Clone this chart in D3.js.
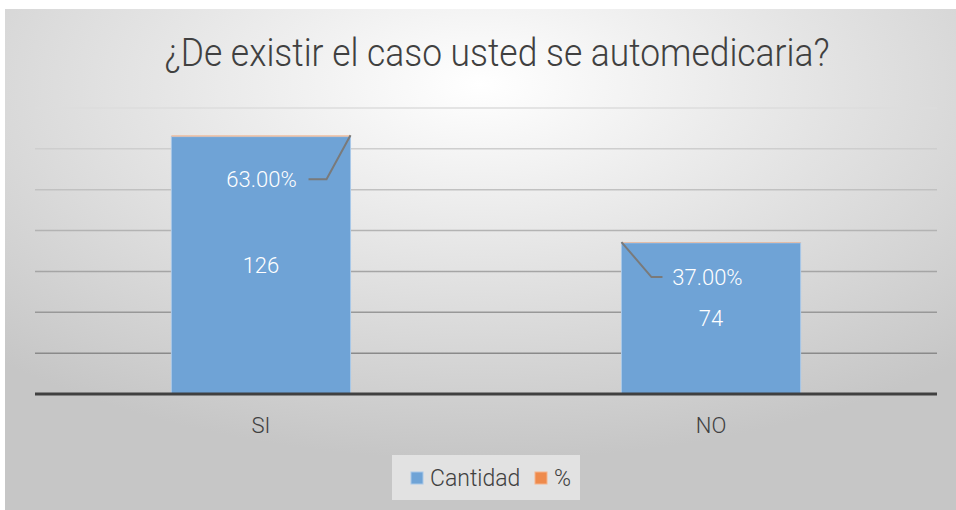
<!DOCTYPE html>
<html>
<head>
<meta charset="utf-8">
<script src="https://cdn.jsdelivr.net/npm/d3@7"></script>
<style>
  body { margin: 0; background: #fff; }
  svg { display: block; }
</style>
</head>
<body>
<svg id="chart" width="956" height="510"></svg>
<script>
const categories = ['SI', 'NO'];
const cantidad = [126, 74];
const porcentaje = [0.63, 0.37];
const seriesNames = ['Cantidad', '%'];
const yTicks = [0, 20, 40, 60, 80, 100, 120, 140];

const W = 956, H = 510;
const svg = d3.select('#chart');
const FONT = 'Roboto, sans-serif';

// Background with soft radial gradient
const defs = svg.append('defs');
const bg = defs.append('radialGradient')
  .attr('id', 'bg')
  .attr('cx', '50%').attr('cy', '15%').attr('r', '75%');
bg.append('stop').attr('offset', '0%').attr('stop-color', '#ffffff');
bg.append('stop').attr('offset', '100%').attr('stop-color', '#c6c6c6');

svg.append('rect')
  .attr('x', 5).attr('y', 9)
  .attr('width', W - 5).attr('height', H - 9)
  .style('fill', 'url(#bg)');

const plot = { left: 35, right: 937, top: 108, bottom: 394 };

const x = d3.scaleBand()
  .domain(categories)
  .range([plot.left, plot.right])
  .paddingInner(0.602)
  .paddingOuter(0.303);

const y = d3.scaleLinear()
  .domain([0, 140])
  .range([plot.bottom, plot.top]);

// Gridlines, lighter towards the top
const gridColor = d3.scaleLinear().domain([140, 20]).range(['#dcdcdc', '#8a8a8a']);
svg.append('g')
  .selectAll('line')
  .data(yTicks.filter(t => t > 0))
  .join('line')
  .attr('x1', plot.left).attr('x2', plot.right)
  .attr('y1', d => y(d)).attr('y2', d => y(d))
  .style('stroke', d => gridColor(d))
  .style('stroke-width', 1.5);

// Bars: Cantidad with % stacked on top
const bars = svg.append('g');
bars.selectAll('rect.cant')
  .data(categories)
  .join('rect')
  .attr('class', 'cant')
  .attr('x', d => x(d))
  .attr('width', x.bandwidth())
  .attr('y', (d, i) => y(cantidad[i]))
  .attr('height', (d, i) => y(0) - y(cantidad[i]))
  .style('fill', '#6fa3d6')
  .style('stroke', '#a9c8e8')
  .style('stroke-width', 1);

bars.selectAll('rect.pct')
  .data(categories)
  .join('rect')
  .attr('class', 'pct')
  .attr('x', d => x(d))
  .attr('width', x.bandwidth())
  .attr('y', (d, i) => y(cantidad[i] + porcentaje[i]))
  .attr('height', (d, i) => y(cantidad[i]) - y(cantidad[i] + porcentaje[i]))
  .style('fill', '#f0b896');

// Axis baseline
svg.append('line')
  .attr('x1', plot.left).attr('x2', plot.right)
  .attr('y1', y(0)).attr('y2', y(0))
  .style('stroke', '#404040')
  .style('stroke-width', 3);

// Category labels
svg.append('g')
  .selectAll('text')
  .data(categories)
  .join('text')
  .attr('x', d => x(d) + x.bandwidth() / 2)
  .attr('y', 425)
  .attr('dy', '0.35em')
  .attr('text-anchor', 'middle')
  .style('font-family', FONT)
  .style('font-weight', 300)
  .style('font-size', '22px')
  .style('fill', '#404040')
  .text(d => d);

// Value labels (Cantidad) centred in bars
svg.append('g')
  .selectAll('text')
  .data(categories)
  .join('text')
  .attr('x', d => x(d) + x.bandwidth() / 2)
  .attr('y', (d, i) => (y(0) + y(cantidad[i])) / 2)
  .attr('dy', '0.35em')
  .attr('text-anchor', 'middle')
  .style('font-family', FONT)
  .style('font-weight', 300)
  .style('font-size', '22px')
  .style('fill', '#ffffff')
  .text((d, i) => cantidad[i]);

// Percentage labels with leader lines
const pctLabels = [
  { dx: -89, dy: 44, elbow: -24, side: 'right' },
  { dx: 86, dy: 35, elbow: 30, side: 'left' }
];
const fmt = d3.format('.2%');
categories.forEach((c, i) => {
  const L = pctLabels[i];
  const ax = i === 0 ? x(c) + x.bandwidth() : x(c);
  const ay = y(cantidad[i] + porcentaje[i]);
  const tx = ax + L.dx, ty = ay + L.dy;
  const ex = ax + L.elbow;
  const hx = L.side === 'right' ? tx + 47 : tx - 45;
  svg.append('polyline')
    .attr('points', [[ax, ay], [ex, ty], [hx, ty]].map(p => p.join(',')).join(' '))
    .style('fill', 'none')
    .style('stroke', '#7a7a7a')
    .style('stroke-width', 2);
  svg.append('text')
    .attr('x', tx)
    .attr('y', ty)
    .attr('dy', '0.35em')
    .attr('text-anchor', 'middle')
    .style('font-family', FONT)
    .style('font-weight', 300)
    .style('font-size', '22px')
    .style('fill', '#ffffff')
    .text(fmt(porcentaje[i]));
});

// Title (condensed look)
svg.append('text')
  .attr('x', 497)
  .attr('y', 66)
  .attr('text-anchor', 'middle')
  .attr('textLength', 665)
  .attr('lengthAdjust', 'spacingAndGlyphs')
  .style('font-family', FONT)
  .style('font-weight', 300)
  .style('font-size', '38px')
  .style('fill', '#404040')
  .text('¿De existir el caso usted se automedicaria?');

// Legend
const legend = svg.append('g');
legend.append('rect')
  .attr('x', 392).attr('y', 455).attr('width', 188).attr('height', 45)
  .style('fill', '#e2e2e2');
const legendColors = ['#6fa3d6', '#ee8a4c'];
const legendX = [411, 535];
seriesNames.forEach((s, i) => {
  legend.append('rect')
    .attr('x', legendX[i]).attr('y', 472).attr('width', 12).attr('height', 12)
    .style('fill', legendColors[i])
    .style('stroke', i === 0 ? '#a9c8e8' : '#f5b48c');
  legend.append('text')
    .attr('x', legendX[i] + 19)
    .attr('y', 478)
    .attr('dy', '0.35em')
    .style('font-family', FONT)
    .style('font-weight', 300)
    .style('font-size', '23px')
    .style('fill', '#404040')
    .text(s);
});
</script>
</body>
</html>
